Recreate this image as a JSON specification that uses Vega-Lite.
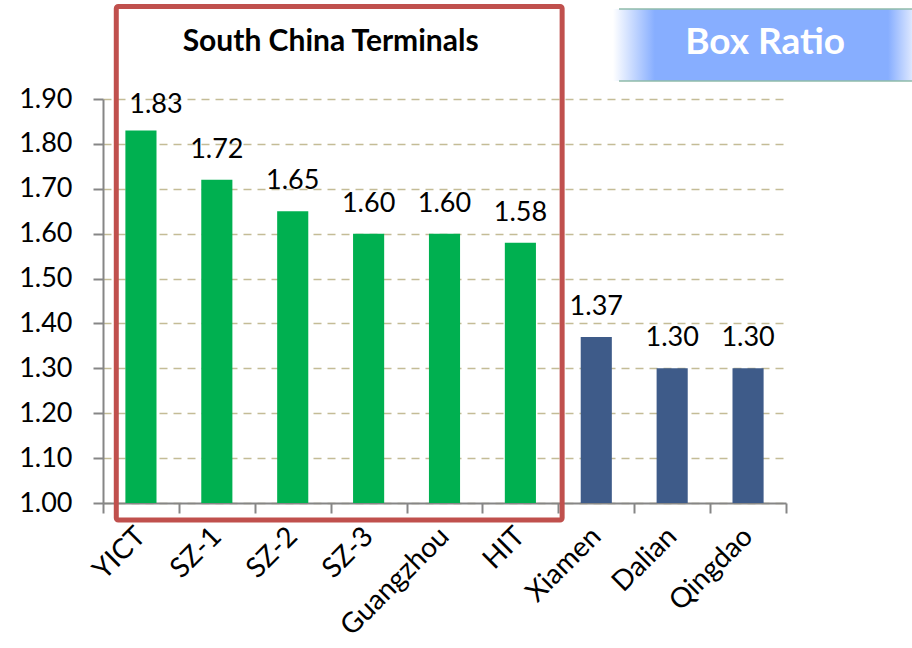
{
  "$schema": "https://vega.github.io/schema/vega-lite/v6.json",
  "width": 683,
  "height": 404,
  "autosize": "none",
  "padding": {"left": 103, "top": 99, "right": 126, "bottom": 145},
  "background": "white",
  "config": {"view": {"stroke": null}, "font": "Lato"},
  "datasets": {
    "main": [
      {"terminal": "YICT", "ratio": 1.83, "group": "South China"},
      {"terminal": "SZ-1", "ratio": 1.72, "group": "South China"},
      {"terminal": "SZ-2", "ratio": 1.65, "group": "South China"},
      {"terminal": "SZ-3", "ratio": 1.60, "group": "South China"},
      {"terminal": "Guangzhou", "ratio": 1.60, "group": "South China"},
      {"terminal": "HIT", "ratio": 1.58, "group": "South China"},
      {"terminal": "Xiamen", "ratio": 1.37, "group": "Other"},
      {"terminal": "Dalian", "ratio": 1.30, "group": "Other"},
      {"terminal": "Qingdao", "ratio": 1.30, "group": "Other"}
    ],
    "box": [{"from": "YICT", "to": "HIT", "low": 0.962, "high": 2.106}],
    "boxTitle": [{"at": "SZ-3", "level": 2.026, "label": "South China Terminals"}],
    "badge": [{"from": "Xiamen", "to": "Qingdao", "low": 1.940, "high": 2.1005}],
    "badgeEdges": [{"from": "Xiamen", "to": "Qingdao", "level": 1.940}, {"from": "Xiamen", "to": "Qingdao", "level": 2.1005}],
    "badgeText": [{"at": "Qingdao", "level": 2.0247, "label": "Box Ratio"}]
  },
  "layer": [
    {
      "data": {"name": "main"},
      "mark": {"type": "bar", "width": {"band": 0.41}},
      "encoding": {
        "x": {
          "field": "terminal", "type": "nominal",
          "scale": {"domain": ["YICT", "SZ-1", "SZ-2", "SZ-3", "Guangzhou", "HIT", "Xiamen", "Dalian", "Qingdao"], "paddingInner": 0, "paddingOuter": 0},
          "axis": {
            "title": null, "labelAngle": -45, "labelAlign": "right", "labelBaseline": "middle",
            "labelFontSize": 28, "labelColor": "black",
            "labelFont": "Lato", "tickBand": "extent", "tickSize": 10, "tickColor": "#868686",
            "domainColor": "#868686", "domainWidth": 2, "tickWidth": 2, "labelPadding": 19
          }
        },
        "y": {
          "field": "ratio", "type": "quantitative",
          "scale": {"domain": [1, 1.9], "nice": false, "zero": false},
          "axis": {
            "title": null, "values": [1, 1.1, 1.2, 1.3, 1.4, 1.5, 1.6, 1.7, 1.8, 1.9],
            "format": ".2f", "labelFontSize": 27, "labelColor": "black", "labelFont": "Lato",
            "tickSize": 10, "tickColor": "#868686", "domainColor": "#868686", "domainWidth": 2,
            "tickWidth": 2, "labelPadding": 21,
            "grid": true, "gridColor": "#C4BC96", "gridDash": [8, 6], "gridWidth": 1.5
          }
        },
        "y2": {"datum": 1},
        "color": {
          "field": "group", "type": "nominal", "legend": null,
          "scale": {"domain": ["South China", "Other"], "range": ["#00B050", "#3E5B89"]}
        }
      }
    },
    {
      "data": {"name": "main"},
      "transform": [{"filter": "datum.terminal != 'YICT'"}],
      "mark": {"type": "text", "baseline": "bottom", "dy": -16, "fontSize": 27, "font": "Lato", "color": "black"},
      "encoding": {
        "x": {"field": "terminal", "type": "nominal"},
        "y": {"field": "ratio", "type": "quantitative"},
        "text": {"field": "ratio", "type": "quantitative", "format": ".2f"}
      }
    },
    {
      "data": {"name": "main"},
      "transform": [{"filter": "datum.terminal == 'YICT'"}],
      "mark": {"type": "text", "baseline": "bottom", "dy": -11, "dx": 15, "fontSize": 27, "font": "Lato", "color": "black"},
      "encoding": {
        "x": {"field": "terminal", "type": "nominal"},
        "y": {"field": "ratio", "type": "quantitative"},
        "text": {"field": "ratio", "type": "quantitative", "format": ".2f"}
      }
    },
    {
      "data": {"name": "box"},
      "mark": {"type": "rect", "fill": null, "stroke": "#C0504D", "strokeWidth": 5, "cornerRadius": 2},
      "encoding": {
        "x": {"field": "from", "type": "nominal", "bandPosition": 0.175},
        "x2": {"field": "to", "bandPosition": 1.05},
        "y": {"field": "low", "type": "quantitative"},
        "y2": {"field": "high"}
      }
    },
    {
      "data": {"name": "boxTitle"},
      "mark": {"type": "text", "fontSize": 30, "fontWeight": "bold", "font": "Lato", "color": "black", "baseline": "middle", "align": "center"},
      "encoding": {
        "x": {"field": "at", "type": "nominal", "bandPosition": 0},
        "y": {"field": "level", "type": "quantitative"},
        "text": {"field": "label"}
      }
    },
    {
      "data": {"name": "badge"},
      "mark": {
        "type": "rect",
        "fill": {
          "gradient": "linear", "x1": 0, "y1": 0, "x2": 1, "y2": 0,
          "stops": [
            {"offset": 0, "color": "#FFFFFF"},
            {"offset": 0.14, "color": "#87AEFF"},
            {"offset": 0.92, "color": "#87AEFF"},
            {"offset": 1, "color": "#DCE7FF"}
          ]
        }
      },
      "encoding": {
        "x": {"field": "from", "type": "nominal", "bandPosition": 0.72},
        "x2": {"field": "to", "bandPosition": 2.66},
        "y": {"field": "low", "type": "quantitative"},
        "y2": {"field": "high"}
      }
    },
    {
      "data": {"name": "badgeEdges"},
      "mark": {"type": "rule", "color": "#8FBBAA", "strokeWidth": 1.5},
      "encoding": {
        "x": {"field": "from", "type": "nominal", "bandPosition": 0.8},
        "x2": {"field": "to", "bandPosition": 2.66},
        "y": {"field": "level", "type": "quantitative"}
      }
    },
    {
      "data": {"name": "badgeText"},
      "mark": {"type": "text", "fontSize": 37, "fontWeight": "bold", "font": "Lato", "color": "white", "baseline": "middle", "align": "center"},
      "encoding": {
        "x": {"field": "at", "type": "nominal", "bandPosition": 0.725},
        "y": {"field": "level", "type": "quantitative"},
        "text": {"field": "label"}
      }
    }
  ]
}
